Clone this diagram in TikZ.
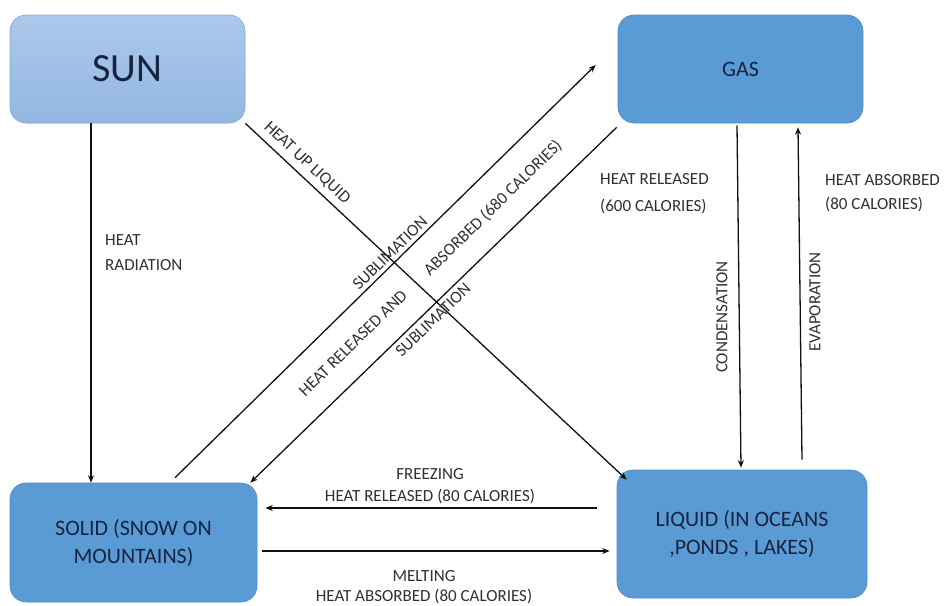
\documentclass[tikz,border=0pt]{standalone}
\usepackage{fontspec}
\setmainfont{Carlito}
\usetikzlibrary{arrows.meta}
\definecolor{boxblue}{HTML}{5B9BD5}
\definecolor{boxedge}{HTML}{4E8CC8}
\definecolor{suntop}{HTML}{ABC8EB}
\definecolor{sunbot}{HTML}{93B7E2}
\definecolor{sunedge}{HTML}{86AAD6}
\definecolor{boxtext}{HTML}{17243F}
\definecolor{labeltext}{HTML}{303030}
\definecolor{linecol}{HTML}{111111}
\begin{document}
\begin{tikzpicture}[x=1pt,y=-1pt,
  statebox/.style={rounded corners=16pt, fill=boxblue, draw=boxedge, line width=0.6pt,
    text=boxtext, align=center, font=\fontsize{22}{28}\selectfont, inner sep=0pt},
  conn/.style={draw=linecol, line width=1.3pt, -{Stealth[length=7.5pt,width=6pt]}},
  lbl/.style={text=labeltext, font=\fontsize{17}{24}\selectfont, inner sep=0pt}]
\useasboundingbox (0,0) rectangle (944,605);

% boxes
\node[statebox, top color=suntop, bottom color=sunbot, draw=sunedge,
      minimum width=235pt, minimum height=108pt, font=\fontsize{40}{48}\selectfont] (sun) at (127.5,69) {SUN};
\node[statebox, minimum width=245pt, minimum height=108pt] (gas) at (740.5,69) {GAS};
\node[statebox, minimum width=247pt, minimum height=119pt] (solid) at (133.5,542.5) {SOLID (SNOW ON\\MOUNTAINS)};
\node[statebox, minimum width=250pt, minimum height=128pt] (liquid) at (742,534) {LIQUID (IN OCEANS\\,PONDS , LAKES)};

% connectors
\draw[conn] ([xshift=-36.5pt]sun.south) -- ([xshift=-42.5pt]solid.north);
\draw[conn] (sun.south east) -- ([shift={(10,10)}]liquid.north west);
\draw[conn] ([shift={(41.5,-5)}]solid.north) -- ([shift={(-22,-4)}]gas.west);
\draw[conn] ([shift={(-1,4)}]gas.south west) -- ([shift={(-7,0)}]solid.north east);
\draw[conn] ([shift={(-3.5,2)}]gas.south) -- ([shift={(-1,-2)}]liquid.north);
\draw[conn] ([shift={(60,-10)}]liquid.north) -- ([shift={(57.5,4)}]gas.south);
\draw[conn] ([shift={(-20,-26)}]liquid.west) -- ([shift={(8,-34.5)}]solid.east);
\draw[conn] ([shift={(5,8.5)}]solid.east) -- ([shift={(-7,17)}]liquid.west);

% labels
\node[lbl, anchor=west, align=left, font=\fontsize{17}{25}\selectfont] (lrad) at (105,252.5) {HEAT\\RADIATION};
\node[lbl, rotate=-43] (lup) at (307,163) {HEAT UP LIQUID};
\node[lbl, rotate=44.4] (lsub1) at (390,253) {SUBLIMATION};
\node[lbl, rotate=44.1] (lsub2) at (433,320) {SUBLIMATION};
\node[lbl, rotate=44.3] (lrel) at (353,343) {HEAT RELEASED AND};
\node[lbl, rotate=44.3] (labs) at (493,208) {ABSORBED (680 CALORIES)};
\node[lbl, anchor=west, align=left, font=\fontsize{17}{27}\selectfont] (l600) at (600,193.5) {HEAT RELEASED\\(600 CALORIES)};
\node[lbl, anchor=west, align=left] (l80) at (825,193) {HEAT ABSORBED\\(80 CALORIES)};
\node[lbl, rotate=90] (lcond) at (722,317) {CONDENSATION};
\node[lbl, rotate=90] (levap) at (815,302) {EVAPORATION};
\node[lbl, align=center, font=\fontsize{17}{22}\selectfont] (lfreeze) at (430,486) {FREEZING\\HEAT RELEASED (80 CALORIES)};
\node[lbl, align=center, font=\fontsize{17}{20}\selectfont] (lmelt) at (424,587) {MELTING\\HEAT ABSORBED (80 CALORIES)};
\end{tikzpicture}
\end{document}
